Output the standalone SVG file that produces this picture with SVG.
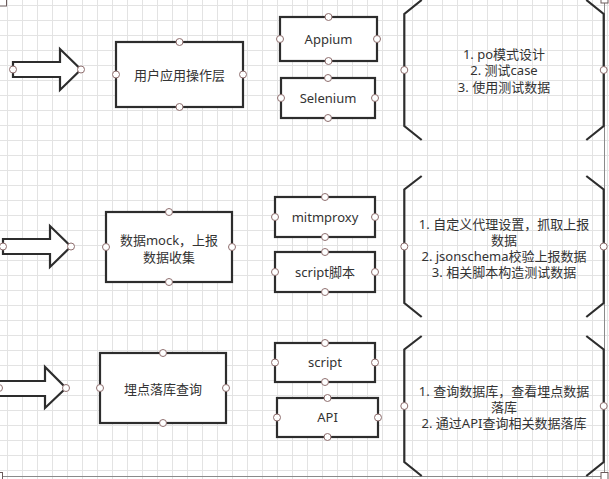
<svg xmlns="http://www.w3.org/2000/svg" width="609" height="479" viewBox="0 0 609 479">
<defs>
<pattern id="grid" x="7" y="5" width="15" height="15" patternUnits="userSpaceOnUse">
<path d="M0 0.5H15M0.5 0V15" fill="none" stroke="#e3e3e3" stroke-width="1"/>
</pattern>
<style>
.shape{fill:#fff;stroke:#2d2d2d;stroke-width:2.2;stroke-linejoin:miter}
.br{fill:none;stroke:#2d2d2d;stroke-width:2.2}
.pt{fill:#fff;stroke:#8e6e6e;stroke-width:1}
.t{font-family:"Noto Sans","Noto Sans CJK SC",sans-serif;font-size:13px;fill:#333;text-anchor:middle}
.sel{fill:none;stroke:#8a8a8a;stroke-width:1}
.hd{fill:#fff;stroke:#6b5a5a;stroke-width:1}
</style>
</defs>
<rect width="609" height="479" fill="#fff"/>
<rect width="609" height="479" fill="url(#grid)"/>

<g id="selection">
<path class="sel" d="M604.5 0V476.5M0 476.5H604.5"/>
<rect class="hd" x="-0.5" y="-1" width="7" height="7"/>
<rect class="hd" x="601" y="-4" width="7" height="7"/>
<rect class="hd" x="601" y="472.5" width="7" height="7"/>
<rect class="hd" x="-4.5" y="472.5" width="7" height="7"/>
</g>

<g id="connectors"></g>

<!-- Row 1 -->
<g id="arrow1">
<polygon class="shape" points="13,62 60,62 60,49 81,69.5 60,90 60,77 13,77"/>
<circle class="pt" cx="13" cy="69.5" r="3.5"/>
<circle class="pt" cx="81" cy="69.5" r="3.5"/>
</g>
<g id="layer1">
<rect class="shape" x="116" y="42" width="127" height="65"/>
<text class="t" x="179.5" y="79.5">用户应用操作层</text>
<circle class="pt" cx="179.5" cy="42" r="3.5"/>
<circle class="pt" cx="179.5" cy="107" r="3.5"/>
<circle class="pt" cx="116" cy="74.5" r="3.5"/>
<circle class="pt" cx="243" cy="74.5" r="3.5"/>
</g>
<g id="appium">
<rect class="shape" x="280" y="17" width="97" height="44"/>
<text class="t" x="328.5" y="43.5">Appium</text>
<circle class="pt" cx="328.5" cy="17" r="3.5"/>
<circle class="pt" cx="328.5" cy="61" r="3.5"/>
<circle class="pt" cx="280" cy="39" r="3.5"/>
<circle class="pt" cx="377" cy="39" r="3.5"/>
</g>
<g id="selenium">
<rect class="shape" x="281" y="78" width="94" height="40"/>
<text class="t" x="328" y="102.5">Selenium</text>
<circle class="pt" cx="328" cy="78" r="3.5"/>
<circle class="pt" cx="328" cy="118" r="3.5"/>
<circle class="pt" cx="281" cy="98" r="3.5"/>
<circle class="pt" cx="375" cy="98" r="3.5"/>
</g>
<g id="note1">
<path class="br" d="M421.7 0L404.3 14V126L421.7 140"/>
<path class="br" d="M586.3 0L603.7 14V126L586.3 140"/>
<text class="t" x="504" y="58.5">1. po模式设计</text>
<text class="t" x="504" y="75">2. 测试case</text>
<text class="t" x="504" y="91.5">3. 使用测试数据</text>
<circle class="pt" cx="404.3" cy="70" r="3.5"/>
<circle class="pt" cx="603.7" cy="70" r="3.5"/>
</g>

<!-- Row 2 -->
<g id="arrow2">
<polygon class="shape" points="3,239 50,239 50,226 71,246.5 50,267 50,254 3,254"/>
<circle class="pt" cx="3" cy="246.5" r="3.5"/>
<circle class="pt" cx="71" cy="246.5" r="3.5"/>
</g>
<g id="layer2">
<rect class="shape" x="106" y="212" width="126" height="70"/>
<text class="t" x="169" y="244.5">数据mock，上报</text>
<text class="t" x="169" y="261.5">数据收集</text>
<circle class="pt" cx="169" cy="212" r="3.5"/>
<circle class="pt" cx="169" cy="282" r="3.5"/>
<circle class="pt" cx="106" cy="247" r="3.5"/>
<circle class="pt" cx="232" cy="247" r="3.5"/>
</g>
<g id="mitmproxy">
<rect class="shape" x="275" y="197" width="100" height="40"/>
<text class="t" x="325" y="221.5">mitmproxy</text>
<circle class="pt" cx="325" cy="197" r="3.5"/>
<circle class="pt" cx="325" cy="237" r="3.5"/>
<circle class="pt" cx="275" cy="217" r="3.5"/>
<circle class="pt" cx="375" cy="217" r="3.5"/>
</g>
<g id="script-jiaoben">
<rect class="shape" x="275" y="252" width="100" height="40"/>
<text class="t" x="325" y="276.5">script脚本</text>
<circle class="pt" cx="325" cy="252" r="3.5"/>
<circle class="pt" cx="325" cy="292" r="3.5"/>
<circle class="pt" cx="275" cy="272" r="3.5"/>
<circle class="pt" cx="375" cy="272" r="3.5"/>
</g>
<g id="note2">
<path class="br" d="M421.7 176L404.3 189.5V303L421.7 317"/>
<path class="br" d="M586.3 176L603.7 189.5V303L586.3 317"/>
<text class="t" x="504" y="228.5">1. 自定义代理设置，抓取上报</text>
<text class="t" x="504" y="244.5">数据</text>
<text class="t" x="504" y="260.5">2. jsonschema校验上报数据</text>
<text class="t" x="504" y="276.5">3. 相关脚本构造测试数据</text>
<circle class="pt" cx="404.3" cy="246.5" r="3.5"/>
<circle class="pt" cx="603.7" cy="246.5" r="3.5"/>
</g>

<!-- Row 3 -->
<g id="arrow3">
<polygon class="shape" points="-2,381 45,381 45,367 66,388 45,408 45,396 -2,396"/>
<circle class="pt" cx="-1" cy="388" r="3.5"/>
<circle class="pt" cx="66" cy="388" r="3.5"/>
</g>
<g id="layer3">
<rect class="shape" x="100" y="353" width="126" height="70"/>
<text class="t" x="163" y="393.5">埋点落库查询</text>
<circle class="pt" cx="163" cy="353" r="3.5"/>
<circle class="pt" cx="163" cy="423" r="3.5"/>
<circle class="pt" cx="100" cy="388" r="3.5"/>
<circle class="pt" cx="226" cy="388" r="3.5"/>
</g>
<g id="script">
<rect class="shape" x="275" y="343" width="100" height="39"/>
<text class="t" x="325" y="367">script</text>
<circle class="pt" cx="325" cy="343" r="3.5"/>
<circle class="pt" cx="325" cy="382" r="3.5"/>
<circle class="pt" cx="275" cy="362.5" r="3.5"/>
<circle class="pt" cx="375" cy="362.5" r="3.5"/>
</g>
<g id="api">
<rect class="shape" x="277" y="398" width="101" height="39"/>
<text class="t" x="327.5" y="422">API</text>
<circle class="pt" cx="327.5" cy="398" r="3.5"/>
<circle class="pt" cx="327.5" cy="437" r="3.5"/>
<circle class="pt" cx="277" cy="417.5" r="3.5"/>
<circle class="pt" cx="378" cy="417.5" r="3.5"/>
</g>
<g id="note3">
<path class="br" d="M421.7 336L404.3 349.5V462L421.7 476"/>
<path class="br" d="M586.3 336L603.7 349.5V462L586.3 476"/>
<text class="t" x="504" y="395.5">1. 查询数据库，查看埋点数据</text>
<text class="t" x="504" y="411.5">落库</text>
<text class="t" x="504" y="427.5">2. 通过API查询相关数据落库</text>
<circle class="pt" cx="404.3" cy="406" r="3.5"/>
<circle class="pt" cx="603.7" cy="406" r="3.5"/>
</g>
</svg>
